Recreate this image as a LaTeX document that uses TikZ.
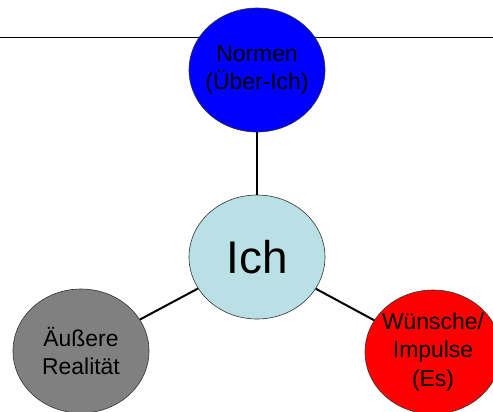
\documentclass[tikz,border=0pt]{standalone}
\usepackage{fontspec}
\setmainfont{Liberation Sans}
\usetikzlibrary{shapes.geometric}
\definecolor{ichblue}{RGB}{185,224,228}
\definecolor{normblue}{RGB}{0,0,255}
\definecolor{esred}{RGB}{255,0,0}
\definecolor{realgrey}{RGB}{128,128,128}
\tikzset{
  bubble/.style={ellipse, draw=black!80, line width=0.6bp, minimum width=136bp, minimum height=124bp, inner xsep=-25bp, inner ysep=-25bp, align=center, text=black, font=\fontsize{23}{29}\selectfont},
  link/.style={line width=2bp, black}
}
\begin{document}
\begin{tikzpicture}[x=1bp,y=-1bp]
\useasboundingbox (0,0) rectangle (493,411);
\draw[line width=1bp] (0,37) -- (493,37);
\node[bubble, fill=normblue] (norm) at (257,70) {Normen\\(Über-Ich)};
\node[bubble, fill=ichblue, font=\fontsize{46}{50}\selectfont] (ich) at (257,257) {Ich};
\node[bubble, fill=realgrey] (real) at (81,351) {Äußere\\Realität};
\node[bubble, fill=esred] (es) at (433,352) {Wünsche/\\Impulse\\(Es)};
\draw[link] (ich) -- (norm);
\draw[link] (ich) -- (real);
\draw[link] (ich) -- (es);
\end{tikzpicture}
\end{document}
